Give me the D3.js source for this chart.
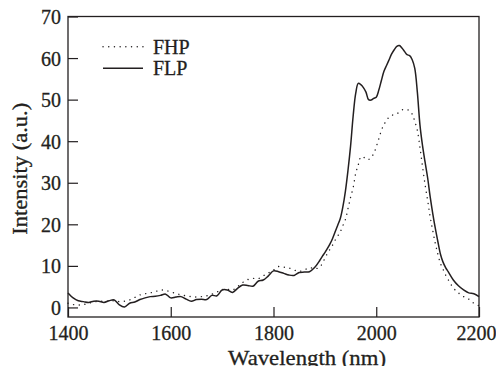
<!DOCTYPE html>
<html lang="en">
<head>
    <meta charset="UTF-8">
    <title>FHP / FLP spectrum</title>
    <script src="https://d3js.org/d3.v7.min.js"></script>
    <style>
        body {
            margin: 0;
            padding: 0;
            background-color: #ffffff;
        }

        svg text {
            font-family: 'Liberation Serif', 'Times New Roman', serif;
            fill: #231f20;
            stroke: #231f20;
            stroke-width: 0.3px;
        }
    </style>
</head>
<body>
    <svg id="chart" width="496" height="366"></svg>

    <script>
        // wavelength (nm), 10 nm steps away from the peak, 5 nm steps around it
        const wavelength = [
            1400, 1410, 1420, 1430, 1440, 1450, 1460, 1470, 1480, 1490,
            1500, 1510, 1520, 1530, 1540, 1550, 1560, 1570, 1580, 1590,
            1600, 1610, 1620, 1630, 1640, 1650, 1660, 1670, 1680, 1690,
            1700, 1710, 1720, 1730, 1740, 1750, 1760, 1770, 1780, 1790,
            1800, 1810, 1820, 1830, 1840, 1850, 1860, 1870, 1880, 1890,
            1895, 1900, 1905, 1910, 1915, 1920, 1925, 1930, 1935, 1940,
            1945, 1950, 1955, 1960, 1965, 1970, 1975, 1980, 1985, 1990,
            1995, 2000, 2005, 2010, 2015, 2020, 2025, 2030, 2035, 2040,
            2045, 2050, 2055, 2060, 2065, 2070, 2075, 2080, 2085, 2090,
            2095, 2100, 2105, 2110, 2115, 2120, 2125, 2130, 2135, 2140,
            2150, 2160, 2170, 2180, 2190, 2200
        ];

        // FLP (solid line)
        const flp = [
            3.5, 2.3, 1.6, 1.4, 1.2, 1.5, 1.5, 1.2, 1.6, 1.8,
            0.6, 0.1, 1.0, 1.3, 1.9, 2.3, 2.6, 2.7, 2.9, 3.2,
            2.3, 2.5, 2.6, 2.0, 1.5, 1.9, 2.0, 1.9, 2.9, 2.8,
            4.2, 4.2, 3.6, 4.6, 5.4, 5.3, 5.1, 6.3, 6.6, 7.6,
            8.8, 8.6, 8.2, 7.8, 7.7, 8.4, 8.5, 8.6, 9.6, 11.3,
            12.3, 13.2, 14.2, 15.3, 16.6, 18.2, 19.8, 21.4, 24.2, 28.0,
            33.0, 38.8, 46.0, 51.5, 53.9, 53.6, 52.9, 51.8, 50.0, 49.9,
            50.3, 50.6, 52.3, 54.6, 56.8, 58.2, 59.6, 61.0, 62.0, 62.8,
            63.0, 62.4, 61.6, 60.8, 60.6, 59.6, 57.5, 51.8, 44.0, 39.0,
            35.0, 31.2, 26.6, 22.6, 19.0, 15.8, 12.8, 10.9, 9.6, 8.6,
            6.6, 5.2, 4.2, 3.5, 3.3, 2.6
        ];

        // FHP (dotted line)
        const fhp = [
            1.0, 0.7, 0.6, 0.7, 1.0, 1.3, 1.5, 1.5, 1.5, 1.6,
            1.4, 1.5, 1.8, 2.4, 3.0, 3.3, 3.5, 3.8, 4.2, 4.1,
            3.7, 3.4, 3.0, 2.8, 2.6, 2.5, 2.6, 2.8, 3.2, 3.7,
            4.3, 4.4, 4.2, 5.0, 6.0, 6.7, 7.0, 6.9, 7.6, 8.3,
            9.0, 9.85, 9.7, 9.5, 9.0, 8.7, 9.0, 9.6, 9.3, 9.7,
            10.6, 11.8, 13.0, 14.0, 15.0, 16.2, 17.2, 18.2, 19.7, 21.2,
            23.8, 26.5, 28.8, 32.3, 34.3, 36.2, 36.2, 35.6, 35.6, 36.1,
            37.0, 38.7, 40.6, 42.6, 44.0, 45.0, 45.8, 46.2, 46.4, 46.6,
            47.0, 47.5, 47.7, 47.6, 47.3, 46.5, 44.8, 42.6, 38.6, 34.0,
            29.6, 25.8, 21.8, 18.5, 15.4, 12.8, 10.6, 9.2, 7.8, 6.7,
            4.7, 3.5, 2.6, 2.0, 1.0, 0.4
        ];

        const xTicks = [1400, 1600, 1800, 2000, 2200];
        const yTicks = [0, 10, 20, 30, 40, 50, 60, 70];
        const seriesNames = ['FHP', 'FLP'];

        const plotLeft = 68, plotRight = 479, plotTop = 16.5, plotBottom = 317;
        const ink = '#231f20';

        const svg = d3.select('#chart');

        const x = d3.scaleLinear().domain([1400, 2200]).range([plotLeft, plotRight]);
        const y = d3.scaleLinear().domain([-2.3, 70]).range([plotBottom, plotTop]);

        // inward ticks, bottom and left only
        const xAxis = svg.append('g')
            .attr('transform', `translate(0,${plotBottom})`)
            .call(d3.axisBottom(x).tickValues(xTicks).tickSize(-10).tickPadding(9).tickFormat(d3.format('d')));

        const yAxis = svg.append('g')
            .attr('transform', `translate(${plotLeft},0)`)
            .call(d3.axisLeft(y).tickValues(yTicks).tickSize(-10).tickPadding(7));

        [xAxis, yAxis].forEach(g => {
            g.select('.domain').remove();
            g.selectAll('line').attr('stroke', ink).attr('stroke-width', 1.2);
            g.selectAll('text')
                .attr('fill', ink)
                .style('font-size', '20px');
        });
        yAxis.selectAll('text').attr('dy', '0.35em');
        xAxis.selectAll('text').attr('dy', '0.71em');
        // last label sits against the right edge
        xAxis.selectAll('text').filter(d => d === 2200).attr('dx', -3);

        // frame
        svg.append('rect')
            .attr('x', plotLeft)
            .attr('y', plotTop)
            .attr('width', plotRight - plotLeft)
            .attr('height', plotBottom - plotTop)
            .attr('fill', 'none')
            .attr('stroke', ink)
            .attr('stroke-width', 1.3);

        const line = values => d3.line()
            .x((d, i) => x(wavelength[i]))
            .y(d => y(d))
            .curve(d3.curveCatmullRom)(values);

        svg.append('path')
            .attr('d', line(fhp))
            .attr('fill', 'none')
            .attr('stroke', ink)
            .attr('stroke-width', 1.4)
            .attr('stroke-linecap', 'round')
            .attr('stroke-dasharray', '0.1,5.6');

        svg.append('path')
            .attr('d', line(flp))
            .attr('fill', 'none')
            .attr('stroke', ink)
            .attr('stroke-width', 1.5);

        // legend
        const legend = svg.append('g');
        seriesNames.forEach((name, i) => {
            const ly = 46.7 + i * 21.6;
            legend.append('line')
                .attr('x1', 103).attr('x2', 143)
                .attr('y1', ly).attr('y2', ly)
                .attr('stroke', ink)
                .attr('stroke-width', i === 0 ? 1.4 : 1.5)
                .attr('stroke-linecap', i === 0 ? 'round' : 'butt')
                .attr('stroke-dasharray', i === 0 ? '0.1,5.6' : null);
            legend.append('text')
                .attr('x', 153)
                .attr('y', ly)
                .attr('dy', '0.35em')
                .style('font-size', '20px')
                .text(name);
        });

        // axis titles (stretched a little, the original face is wider)
        svg.append('text')
            .attr('x', 228)
            .attr('y', 364.5)
            .attr('textLength', 158)
            .attr('lengthAdjust', 'spacingAndGlyphs')
            .style('font-size', '21px')
            .text('Wavelength (nm)');

        svg.append('text')
            .attr('transform', `translate(27,${(plotTop + plotBottom) / 2 + 2}) rotate(-90)`)
            .attr('text-anchor', 'middle')
            .attr('textLength', 132)
            .attr('lengthAdjust', 'spacingAndGlyphs')
            .style('font-size', '20px')
            .text('Intensity (a.u.)');
    </script>
</body>
</html>
